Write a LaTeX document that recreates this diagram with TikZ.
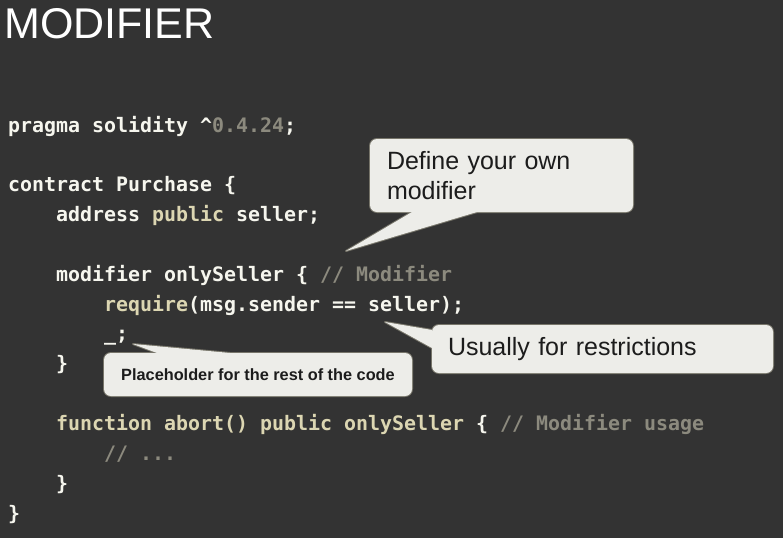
\documentclass[tikz,border=0pt]{standalone}
\usepackage{fontspec}
\setmainfont{Liberation Sans}
\newfontfamily\codefont{DejaVu Sans Mono}
\usetikzlibrary{calc, backgrounds}
\definecolor{slidebg}{HTML}{333333}
\definecolor{codetext}{HTML}{F6F6EE}
\definecolor{codekey}{HTML}{DCD6B2}
\definecolor{codegrey}{HTML}{8C8A7E}
\definecolor{callpaper}{HTML}{EDEDE9}
\definecolor{callline}{HTML}{77756A}
\definecolor{calltext}{HTML}{1C1C1C}
\newcommand\codekw[1]{\textcolor{codekey}{#1}}
\newcommand\codecm[1]{\textcolor{codegrey}{#1}}
\tikzset{
  codeline/.style={
    anchor=base west, inner sep=0pt,
    text=codetext,
    font=\codefont\bfseries\fontsize{19.93}{29.6}\selectfont
  },
  callbox/.style={
    anchor=north west, inner ysep=0pt, outer sep=0pt,
    align=left, text=calltext,
    font=\fontsize{25}{30}\selectfont
  },
  callrim/.style={draw=callline, line width=2pt, line join=round},
  callfill/.style={fill=callpaper}
}
\frenchspacing

\begin{document}
\begin{tikzpicture}[x=1pt, y=-1pt]
  \useasboundingbox (0,0) rectangle (783,538);
  \node[anchor=base west, inner sep=0pt, text=white, font=\fontsize{43}{50}\selectfont] (title) at (4,38) {MODIFIER};

  % the contract
  \node[codeline] (pragma) at (8,132) {pragma solidity \textasciicircum\codecm{0.4.24};};
  \node[codeline] (contract) at (8,191.7) {contract Purchase \{};
  \node[codeline] (seller) at (56,221.5) {address \codekw{public} seller;};
  \node[codeline] (modifier) at (56,281.2) {modifier onlySeller \{ \codecm{// Modifier}};
  \node[codeline] (require) at (104,311.1) {\codekw{require}(msg.sender == seller);};
  \node[codeline] (rest) at (104,340.9) {\_;};
  \node[codeline] (modend) at (56,370.8) {\}};
  \node[codeline] (abort) at (56,430.5) {\codekw{function abort() public onlySeller} \{ \codecm{// Modifier usage}};
  \node[codeline] (body) at (104,460.3) {\codecm{// ...}};
  \node[codeline] (abortend) at (56,490.2) {\}};
  \node[codeline] (contractend) at (8,520) {\}};

  % callouts
  \node[callbox, text width=229pt, inner xsep=17pt, minimum height=73pt] (define) at (370,139) {Define your own\\modifier};
  \node[callbox, text width=309pt, inner xsep=16pt, minimum height=48pt] (usual) at (432,325) {Usually for restrictions};
  \node[callbox, minimum width=308pt, minimum height=43pt,
        font=\bfseries\fontsize{16.3}{20}\selectfont] (holder) at (104,353) {Placeholder for the rest of the code};
  \coordinate (definetip) at (346,251);
  \coordinate (usualtip) at (385,322);
  \coordinate (holdertip) at (133,344);

  \begin{pgfonlayer}{background}
    \fill[slidebg] (0,0) rectangle (783,538);
    \foreach \pass in {callrim, callfill} {
      \path[\pass, rounded corners=7pt] (define.north west) rectangle (define.south east)
        (usual.north west) rectangle (usual.south east)
        (holder.north west) rectangle (holder.south east);
      \path[\pass] ($(define.south west)+(42,0)$) -- (definetip) -- ($(define.south west)+(107,0)$) -- cycle
        ($(usual.north west)+(0,5)$) -- (usualtip) -- ($(usual.north west)+(0,23)$) -- cycle
        ($(holder.north west)+(53,0)$) -- (holdertip) -- ($(holder.north west)+(126,0)$) -- cycle;
    }
  \end{pgfonlayer}
\end{tikzpicture}
\end{document}
